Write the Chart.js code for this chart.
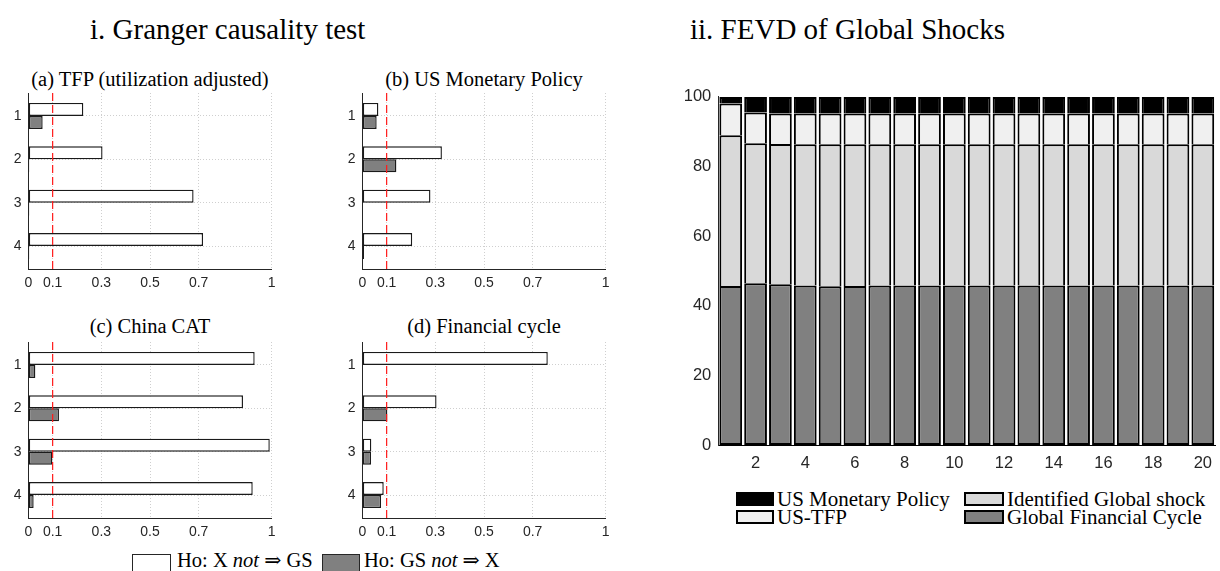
<!DOCTYPE html>
<html>
<head>
<meta charset="utf-8">
<script src="https://cdn.jsdelivr.net/npm/chart.js@4/dist/chart.umd.min.js"></script>
<style>
  html, body { margin: 0; padding: 0; background: #fff; }
  body { width: 1220px; height: 571px; overflow: hidden; position: relative;
         font-family: "Liberation Serif", "DejaVu Serif", serif; color: #000; }
  .abs { position: absolute; }
  .hdr { font-size: 29px; line-height: 1; white-space: nowrap; }
  .leg { font-size: 20.5px; line-height: 1; white-space: nowrap; }
  .leg2 { font-size: 21px; line-height: 1; white-space: nowrap; }
  .ttl { font-size: 20.5px; line-height: 1; white-space: nowrap; text-align: center; width: 300px; }
  .box { position: absolute; box-sizing: border-box; }
  canvas { position: absolute; }
</style>
</head>
<body>

<div class="abs hdr" style="left:90px; top:15px;">i. Granger causality test</div>
<div class="abs hdr" style="left:690px; top:15px;">ii. FEVD of Global Shocks</div>

<!-- panel titles, centred over each plot area -->
<div class="abs ttl" style="left:0px; top:69px;">(a) TFP (utilization adjusted)</div>
<div class="abs ttl" style="left:334px; top:69px;">(b) US Monetary Policy</div>
<div class="abs ttl" style="left:0px; top:316px;">(c) China CAT</div>
<div class="abs ttl" style="left:334px; top:316px;">(d) Financial cycle</div>

<canvas id="panelA" width="290" height="235" style="left:0; top:60px;"></canvas>
<canvas id="panelB" width="290" height="235" style="left:334px; top:60px;"></canvas>
<canvas id="panelC" width="290" height="235" style="left:0; top:309px;"></canvas>
<canvas id="panelD" width="290" height="235" style="left:334px; top:309px;"></canvas>

<!-- Granger legend -->
<div class="box" style="left:132px; top:554px; width:39px; height:22px; background:#fff; border:1px solid #262626;"></div>
<div class="abs leg" style="left:177px; top:550px;">Ho: X <i>not</i> ⇒ GS</div>
<div class="box" style="left:322px; top:554px; width:38px; height:22px; background:#808080; border:1px solid #262626;"></div>
<div class="abs leg" style="left:364px; top:550px;">Ho: GS <i>not</i> ⇒ X</div>

<canvas id="fevd" width="561" height="400" style="left:660px; top:80px;"></canvas>

<!-- FEVD legend -->
<div class="box" style="left:736px; top:492px; width:38px; height:14px; background:#000; border:2px solid #000;"></div>
<div class="abs leg2" style="left:777px; top:489px;">US Monetary Policy</div>
<div class="box" style="left:736px; top:510px; width:38px; height:14px; background:#f0f0f0; border:2px solid #000;"></div>
<div class="abs leg2" style="left:777px; top:507px;">US-TFP</div>
<div class="box" style="left:964px; top:492px; width:40px; height:14px; background:#d9d9d9; border:2px solid #000;"></div>
<div class="abs leg2" style="left:1007px; top:489px;">Identified Global shock</div>
<div class="box" style="left:964px; top:510px; width:40px; height:14px; background:#808080; border:2px solid #000;"></div>
<div class="abs leg2" style="left:1007px; top:507px;">Global Financial Cycle</div>

<script>
// ---- Granger causality p-values, by lag ----
const lags = [1, 2, 3, 4];
const pTicks = [0, 0.1, 0.3, 0.5, 0.7, 1];
const threshold = 0.1;

const tfpXnotGS   = [0.226, 0.305, 0.679, 0.718];
const tfpGSnotX   = [0.059, 0.004, 0.004, 0.004];
const usmpXnotGS  = [0.066, 0.327, 0.280, 0.205];
const usmpGSnotX  = [0.059, 0.140, 0.002, 0.007];
const chinaXnotGS = [0.930, 0.882, 0.992, 0.922];
const chinaGSnotX = [0.029, 0.126, 0.099, 0.022];
const fcXnotGS    = [0.762, 0.305, 0.037, 0.088];
const fcGSnotX    = [0.002, 0.103, 0.036, 0.077];

// ---- Forecast error variance decomposition (%), by horizon ----
const horizons = [1,2,3,4,5,6,7,8,9,10,11,12,13,14,15,16,17,18,19,20];
const fevdGFC = [45.7,46.5,46.2,45.8,45.6,45.7,45.8,45.8,45.8,45.8,45.8,45.8,45.8,45.8,45.8,45.8,45.8,45.8,45.8,45.8];
const fevdIGS = [43.3,40.2,40.3,40.6,40.8,40.7,40.6,40.6,40.6,40.6,40.6,40.6,40.6,40.6,40.6,40.6,40.6,40.6,40.6,40.6];
const fevdTFP = [9.1,8.8,8.7,8.8,8.8,8.8,8.8,8.8,8.8,8.8,8.8,8.8,8.8,8.8,8.8,8.8,8.8,8.8,8.8,8.8];
const fevdMP  = [1.9,4.5,4.8,4.8,4.8,4.8,4.8,4.8,4.8,4.8,4.8,4.8,4.8,4.8,4.8,4.8,4.8,4.8,4.8,4.8];

const axisColor = '#262626';
const tickFontSmall = { family: '"Liberation Sans", Arial, sans-serif', size: 14 };
const tickFontLarge = { family: '"Liberation Sans", Arial, sans-serif', size: 16.5 };

// red dashed significance line at p = 0.1
const thresholdLine = {
  id: 'thresholdLine',
  afterDatasetsDraw(chart) {
    const { ctx, chartArea, scales } = chart;
    const px = scales.x.getPixelForValue(threshold);
    ctx.save();
    ctx.strokeStyle = '#ff1a1a';
    ctx.lineWidth = 1.2;
    ctx.setLineDash([8, 4]);
    ctx.beginPath();
    ctx.moveTo(px, chartArea.top);
    ctx.lineTo(px, chartArea.bottom);
    ctx.stroke();
    ctx.restore();
  }
};

function grangerPanel(id, xNotGS, gsNotX) {
  return new Chart(document.getElementById(id), {
    type: 'bar',
    data: {
      datasets: [
        {
          label: 'Ho: X not ⇒ GS',
          data: lags.map((l, i) => ({ x: xNotGS[i], y: l })),
          backgroundColor: '#ffffff',
          borderColor: '#1a1a1a',
          borderWidth: 1.4,
          borderSkipped: false
        },
        {
          label: 'Ho: GS not ⇒ X',
          data: lags.map((l, i) => ({ x: gsNotX[i], y: l })),
          backgroundColor: '#808080',
          borderColor: '#1a1a1a',
          borderWidth: 1.4,
          borderSkipped: false
        }
      ]
    },
    options: {
      indexAxis: 'y',
      responsive: false,
      animation: false,
      categoryPercentage: 0.6,
      barPercentage: 1,
      layout: { padding: { left: 0, right: 18.3, top: 33, bottom: 0 } },
      plugins: {
        legend: { display: false },
        tooltip: { enabled: false }
      },
      scales: {
        x: {
          type: 'linear',
          min: 0,
          max: 1,
          afterBuildTicks: s => { s.ticks = pTicks.map(v => ({ value: v })); },
          afterFit: s => { s.height = 26; },
          grid: { color: '#cfcfcf', lineWidth: 1, drawTicks: false },
          border: { color: axisColor, width: 1, dash: [1, 2] },
          ticks: { color: axisColor, font: tickFontSmall, padding: 6, maxRotation: 0, callback: v => String(v) }
        },
        y: {
          type: 'linear',
          reverse: true,
          offset: false,
          min: 0.47,
          max: 4.53,
          afterBuildTicks: s => { s.ticks = lags.map(v => ({ value: v })); },
          afterFit: s => { s.width = 28.3; },
          grid: { color: '#cfcfcf', lineWidth: 1, drawTicks: false, offset: false },
          border: { color: axisColor, width: 1, dash: [1, 2] },
          ticks: { color: axisColor, font: tickFontSmall, padding: 6.7, callback: v => String(v) }
        }
      }
    },
    plugins: [thresholdLine]
  });
}

grangerPanel('panelA', tfpXnotGS, tfpGSnotX);
grangerPanel('panelB', usmpXnotGS, usmpGSnotX);
grangerPanel('panelC', chinaXnotGS, chinaGSnotX);
grangerPanel('panelD', fcXnotGS, fcGSnotX);

// stacked FEVD bars
new Chart(document.getElementById('fevd'), {
  type: 'bar',
  data: {
    labels: horizons.map(String),
    datasets: [
      { label: 'Global Financial Cycle', data: fevdGFC, backgroundColor: '#808080', borderSkipped: false },
      { label: 'Identified Global shock', data: fevdIGS, backgroundColor: '#d9d9d9' },
      { label: 'US-TFP', data: fevdTFP, backgroundColor: '#f0f0f0' },
      { label: 'US Monetary Policy', data: fevdMP, backgroundColor: '#000000' }
    ]
  },
  options: {
    responsive: false,
    animation: false,
    categoryPercentage: 1,
    barPercentage: 0.915,
    datasets: { bar: { borderColor: '#000', borderWidth: 2 } },
    layout: { padding: { top: 15, right: 0, left: 0, bottom: 0 } },
    plugins: { legend: { display: false }, tooltip: { enabled: false } },
    scales: {
      x: {
        stacked: true,
        afterFit: s => { s.height = 35; },
        grid: { display: false, drawTicks: false },
        border: { color: '#000', width: 1 },
        ticks: {
          autoSkip: false, maxRotation: 0, padding: 9, color: axisColor, font: tickFontLarge,
          callback: (v, i) => (horizons[i] % 2 === 0 ? String(horizons[i]) : '')
        }
      },
      y: {
        stacked: true,
        min: 0,
        max: 100,
        afterFit: s => { s.width = 58.3; },
        grid: { display: false, drawTicks: false },
        border: { color: axisColor, width: 1 },
        ticks: { stepSize: 20, padding: 7, color: axisColor, font: tickFontLarge }
      }
    }
  }
});
</script>
</body>
</html>
